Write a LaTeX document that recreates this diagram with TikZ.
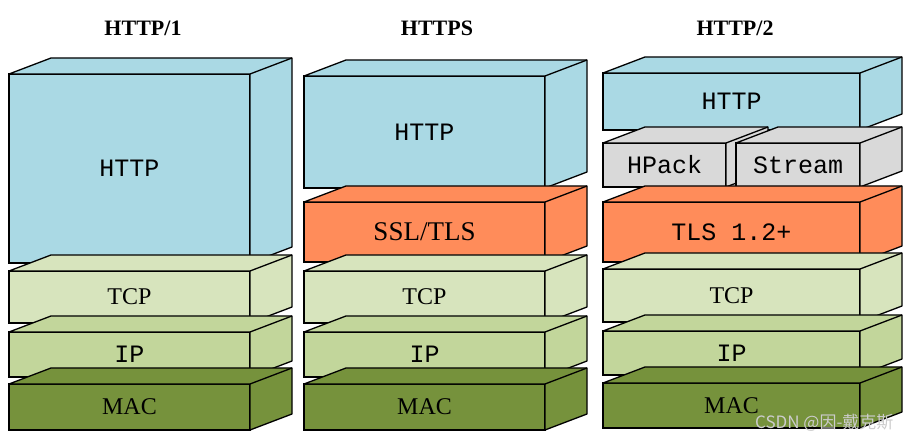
\documentclass[tikz,border=0pt]{standalone}
\usepackage{fontspec}
\setmainfont{Liberation Serif}
\setmonofont{Liberation Mono}
\newfontfamily\cjkfont{Noto Sans CJK SC}
\definecolor{httpblue}{RGB}{170,217,228}
\definecolor{tlsorange}{RGB}{255,140,90}
\definecolor{tcpgreen}{RGB}{215,228,189}
\definecolor{ipgreen}{RGB}{194,214,155}
\definecolor{macgreen}{RGB}{118,146,60}
\definecolor{packgray}{RGB}{217,217,217}
\tikzset{
  layer/.style={draw, line width=1.3pt, outer sep=0pt, inner sep=0pt, anchor=north west},
  serif/.style={font=\fontsize{24}{28}\selectfont},
  mono/.style={font=\ttfamily\fontsize{25}{28}\selectfont},
  title/.style={font=\bfseries\fontsize{22}{26}\selectfont}
}
% top and side face of a layer
\newcommand\faces[2]{%
  \filldraw[fill=#2, line width=1.3pt, line join=round]
    (#1.north west) -- ([shift={(42,-16)}]#1.north west) -- ([shift={(42,-16)}]#1.north east)
    -- ([shift={(42,-16)}]#1.south east) -- (#1.south east) -- (#1.north east) -- cycle;
  \draw[line width=1.3pt] (#1.north east) -- ([shift={(42,-16)}]#1.north east);
}
\begin{document}
\begin{tikzpicture}[x=1pt, y=-1pt]
\useasboundingbox (0,0) rectangle (910,443);
\node[title] (t1) at (143,28) {HTTP/1};
\node[title] (ts) at (437,28) {HTTPS};
\node[title] (t2) at (735,28) {HTTP/2};

\node[layer, mono, fill=httpblue, minimum width=241, minimum height=189] (h1http) at (9,74) {HTTP};
\faces{h1http}{httpblue}
\node[layer, serif, fill=tcpgreen, minimum width=241, minimum height=52] (h1tcp) at (9,271) {TCP};
\faces{h1tcp}{tcpgreen}
\node[layer, mono, fill=ipgreen, minimum width=241, minimum height=45] (h1ip) at (9,332) {IP};
\faces{h1ip}{ipgreen}
\node[layer, serif, fill=macgreen, minimum width=241, minimum height=46] (h1mac) at (9,384) {MAC};
\faces{h1mac}{macgreen}

\node[layer, mono, fill=httpblue, minimum width=241, minimum height=112] (hshttp) at (304,76) {HTTP};
\faces{hshttp}{httpblue}
\node[layer, serif, font=\fontsize{27}{30}\selectfont, fill=tlsorange, minimum width=241, minimum height=60] (hstls) at (304,202) {SSL/TLS};
\faces{hstls}{tlsorange}
\node[layer, serif, fill=tcpgreen, minimum width=241, minimum height=52] (hstcp) at (304,271) {TCP};
\faces{hstcp}{tcpgreen}
\node[layer, mono, fill=ipgreen, minimum width=241, minimum height=45] (hsip) at (304,332) {IP};
\faces{hsip}{ipgreen}
\node[layer, serif, fill=macgreen, minimum width=241, minimum height=46] (hsmac) at (304,384) {MAC};
\faces{hsmac}{macgreen}

\node[layer, mono, fill=httpblue, minimum width=257, minimum height=57] (h2http) at (603,73) {HTTP};
\faces{h2http}{httpblue}
\node[layer, mono, fill=packgray, minimum width=123, minimum height=44] (h2hpack) at (603,143) {HPack};
\faces{h2hpack}{packgray}
\node[layer, mono, fill=packgray, minimum width=124, minimum height=44] (h2stream) at (736,143) {Stream};
\faces{h2stream}{packgray}
\node[layer, mono, fill=tlsorange, minimum width=257, minimum height=60] (h2tls) at (603,202) {TLS 1.2+};
\faces{h2tls}{tlsorange}
\node[layer, serif, fill=tcpgreen, minimum width=257, minimum height=53] (h2tcp) at (603,269) {TCP};
\faces{h2tcp}{tcpgreen}
\node[layer, mono, fill=ipgreen, minimum width=257, minimum height=44] (h2ip) at (603,331) {IP};
\faces{h2ip}{ipgreen}
\node[layer, serif, fill=macgreen, minimum width=257, minimum height=45] (h2mac) at (603,383) {MAC};
\faces{h2mac}{macgreen}

\node[anchor=east, font=\cjkfont\fontsize{17}{20}\selectfont, text=white!60!gray] (mark) at (897,423) {CSDN @因-戴克斯};
\end{tikzpicture}
\end{document}
